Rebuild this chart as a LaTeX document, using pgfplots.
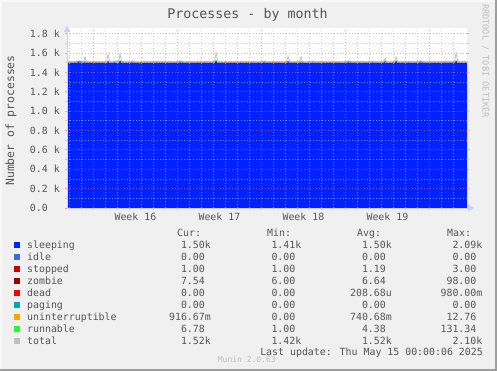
\documentclass[border=0pt]{standalone}
\usepackage{pgfplots}
\pgfplotsset{compat=1.18}
\usepackage{pgfplotstable}
\usepackage{fontspec}
\setmainfont{DejaVu Sans Mono}
\definecolor{bg}{HTML}{F0F0F0}
\definecolor{txt}{HTML}{555555}
\definecolor{arrowc}{HTML}{CCCCFF}
\definecolor{frameD}{HTML}{9E9E9E}
\definecolor{frameL}{HTML}{F8F8F8}
\definecolor{sleepc}{HTML}{0022FF}
\definecolor{idlec}{HTML}{4169E1}
\definecolor{stopc}{HTML}{CC0000}
\definecolor{zombc}{HTML}{990000}
\definecolor{deadc}{HTML}{FF0000}
\definecolor{pagc}{HTML}{00AAAA}
\definecolor{uninc}{HTML}{FFA500}
\definecolor{runc}{HTML}{22FF22}
\definecolor{totc}{HTML}{C0C0C0}
\definecolor{gridmin}{HTML}{C0C0C0}
\definecolor{gridmaj}{HTML}{FF7070}
\newcommand\lf{\fontsize{9.9}{12}\selectfont}
\newcommand\ns{\hphantom{k}}
\newcommand\legrow[8]{%
  \fill[#2] (14,#1+0.3) rectangle (20,#1+6.3);
  \node[anchor=base west] at (27,#1) {\lf #3};
  \node[anchor=base east] at (211,#1) {\lf #4};
  \node[anchor=base east] at (301.5,#1) {\lf #5};
  \node[anchor=base east] at (392,#1) {\lf #6};
  \node[anchor=base east] at (482.5,#1) {\lf #7};
}
\pgfplotstableread{
x s z r t
0.00 1.502 1.509 1.513 1.514
0.50 1.498 1.505 1.510 1.512
1.00 1.505 1.512 1.517 1.518
1.40 1.500 1.507 1.512 1.513
1.50 1.503 1.510 1.515 1.560
1.60 1.501 1.508 1.513 1.514
2.00 1.495 1.502 1.507 1.508
2.50 1.500 1.507 1.512 1.513
3.00 1.497 1.504 1.509 1.510
3.30 1.499 1.506 1.511 1.512
3.42 1.505 1.512 1.517 1.585
3.55 1.500 1.507 1.512 1.513
4.00 1.502 1.509 1.515 1.516
4.30 1.500 1.507 1.513 1.514
4.42 1.508 1.515 1.521 1.590
4.55 1.502 1.509 1.514 1.515
5.00 1.498 1.505 1.510 1.511
5.50 1.503 1.510 1.515 1.516
6.00 1.493 1.500 1.505 1.506
6.50 1.500 1.507 1.512 1.513
7.00 1.497 1.504 1.509 1.510
7.50 1.502 1.509 1.514 1.515
8.00 1.496 1.503 1.508 1.509
8.50 1.501 1.508 1.513 1.514
9.00 1.499 1.506 1.511 1.512
9.50 1.503 1.510 1.516 1.517
10.00 1.497 1.504 1.509 1.510
10.50 1.500 1.507 1.512 1.513
11.00 1.496 1.503 1.508 1.509
11.50 1.502 1.509 1.514 1.515
12.00 1.499 1.506 1.511 1.512
12.30 1.501 1.508 1.514 1.515
12.42 1.510 1.517 1.523 1.600
12.55 1.500 1.507 1.512 1.513
13.00 1.494 1.501 1.506 1.507
13.50 1.500 1.507 1.512 1.513
14.00 1.497 1.504 1.509 1.510
14.50 1.502 1.509 1.514 1.515
15.00 1.496 1.503 1.508 1.509
15.50 1.501 1.508 1.513 1.514
16.00 1.499 1.506 1.511 1.512
16.50 1.503 1.510 1.515 1.516
17.00 1.495 1.502 1.507 1.508
17.50 1.500 1.507 1.512 1.513
18.00 1.498 1.505 1.510 1.511
18.30 1.500 1.507 1.513 1.514
18.42 1.505 1.512 1.518 1.565
18.55 1.500 1.507 1.512 1.513
19.00 1.497 1.504 1.509 1.510
19.38 1.499 1.506 1.511 1.512
19.50 1.503 1.510 1.516 1.560
19.62 1.500 1.507 1.512 1.513
20.00 1.498 1.505 1.510 1.511
20.50 1.502 1.509 1.515 1.516
21.00 1.497 1.504 1.509 1.510
21.50 1.501 1.508 1.513 1.514
22.00 1.496 1.503 1.508 1.509
22.50 1.500 1.507 1.512 1.513
23.00 1.498 1.505 1.510 1.511
23.50 1.503 1.510 1.516 1.517
24.00 1.497 1.504 1.509 1.510
24.50 1.501 1.508 1.513 1.514
25.00 1.499 1.506 1.511 1.512
25.50 1.502 1.509 1.515 1.516
26.00 1.498 1.505 1.510 1.511
26.38 1.500 1.507 1.512 1.513
26.50 1.506 1.513 1.519 1.545
26.62 1.499 1.506 1.511 1.512
27.00 1.498 1.505 1.510 1.511
27.30 1.501 1.508 1.513 1.514
27.42 1.507 1.514 1.520 1.555
27.55 1.500 1.507 1.512 1.513
28.00 1.497 1.504 1.509 1.510
28.50 1.502 1.509 1.514 1.515
29.00 1.499 1.506 1.511 1.512
29.50 1.503 1.510 1.516 1.517
30.00 1.498 1.505 1.510 1.511
30.50 1.501 1.508 1.513 1.514
31.00 1.497 1.504 1.509 1.510
31.50 1.502 1.509 1.515 1.516
32.00 1.499 1.506 1.511 1.512
32.30 1.500 1.507 1.513 1.514
32.42 1.508 1.515 1.521 1.600
32.55 1.501 1.508 1.513 1.514
33.00 1.498 1.505 1.510 1.511
33.33 1.500 1.507 1.512 1.513
}\data
\begin{document}
\begin{tikzpicture}[x=1pt,y=1pt,every node/.style={text=txt,inner sep=0pt}]
\useasboundingbox (0,0) rectangle (497,371);
\fill[bg] (0,0) rectangle (497,371);
\fill[frameL] (0,0) rectangle (2,371);
\fill[frameL] (0,369) rectangle (497,371);
\fill[frameD] (495,0) rectangle (497,371);
\fill[frameD] (0,0) rectangle (497,2);
\begin{axis}[
  at={(67pt,163pt)}, anchor=south west,
  scale only axis, width=400pt, height=180pt,
  xmin=0, xmax=33.33, ymin=0, ymax=1.8576,
  axis line style={draw=none},
  axis background/.style={fill=white},
  axis on top,
  xtick={2.2,9.2,16.2,23.2,30.2}, xticklabels={},
  minor xtick={0.2,1.2,3.2,4.2,5.2,6.2,7.2,8.2,10.2,11.2,12.2,13.2,14.2,15.2,17.2,18.2,19.2,20.2,21.2,22.2,24.2,25.2,26.2,27.2,28.2,29.2,31.2,32.2},
  extra x ticks={5.7,12.7,19.7,26.7},
  extra x tick labels={Week 16,Week 17,Week 18,Week 19},
  extra x tick style={grid=none, major tick length=0pt},
  ytick={0,0.2,0.4,0.6,0.8,1.0,1.2,1.4,1.6,1.8},
  yticklabels={0.0\hphantom{xx},0.2 k,0.4 k,0.6 k,0.8 k,1.0 k,1.2 k,1.4 k,1.6 k,1.8 k},
  minor ytick={0.1,0.3,0.5,0.7,0.9,1.1,1.3,1.5,1.7},
  grid=both,
  major grid style={draw=gridmaj, opacity=0.6, dash pattern=on 1pt off 2pt, line width=0.8pt},
  minor grid style={draw=gridmin, opacity=0.7, dash pattern=on 1pt off 2pt, line width=0.8pt},
  tick align=outside,
  xtick pos=bottom, ytick pos=both, yticklabel pos=left,
  major tick length=2pt, minor tick length=2pt,
  major tick style={draw=gridmaj, opacity=0.6, line width=0.8pt},
  minor tick style={draw=gridmin, opacity=0.7, line width=0.8pt},
  ticklabel style={font=\lf, text=txt},
  yticklabel style={anchor=east, inner sep=0pt, xshift=-5pt},
  xticklabel style={anchor=north, inner sep=0pt, yshift=-5pt},
]
\addplot[draw=none, fill=sleepc] table[x=x,y=s]{\data} \closedcycle;
\addplot[draw=zombc, line width=0.6pt] table[x=x,y=z]{\data};
\addplot[draw=runc, line width=0.6pt] table[x=x,y=r]{\data};
\addplot[draw=totc, line width=0.8pt] table[x=x,y=t]{\data};
\end{axis}
% axes arrows
\draw[arrowc, line width=0.8pt] (67,163) -- (469,163);
\fill[arrowc] (468,166.5) -- (474,163) -- (468,159.5) -- cycle;
\draw[arrowc, line width=0.8pt] (67,163) -- (67,340);
\fill[arrowc] (63.5,339) -- (67,345) -- (70.5,339) -- cycle;
% titles
\node[anchor=base] at (247.5,352.7) {\fontsize{13.3}{15}\selectfont Processes - by month};
\node[rotate=90, anchor=center] at (11,250.5) {\fontsize{11.4}{13}\selectfont Number of processes};
\node[rotate=-90, anchor=center, text=totc] at (485.5,310) {\fontsize{8.6}{10}\selectfont RRDTOOL / TOBI OETIKER};
% legend header
\node[anchor=base west] at (177,134.3) {\lf Cur:};
\node[anchor=base west] at (267,134.3) {\lf Min:};
\node[anchor=base west] at (357,134.3) {\lf Avg:};
\node[anchor=base west] at (447,134.3) {\lf Max:};
\legrow{122.3}{sleepc}{sleeping}{1.50k}{1.41k}{1.50k}{2.09k}{}
\legrow{110.3}{idlec}{idle}{0.00\ns}{0.00\ns}{0.00\ns}{0.00\ns}{}
\legrow{98.3}{stopc}{stopped}{1.00\ns}{1.00\ns}{1.19\ns}{3.00\ns}{}
\legrow{86.3}{zombc}{zombie}{7.54\ns}{6.00\ns}{6.64\ns}{98.00\ns}{}
\legrow{74.3}{deadc}{dead}{0.00\ns}{0.00\ns}{208.68u}{980.00m}{}
\legrow{62.3}{pagc}{paging}{0.00\ns}{0.00\ns}{0.00\ns}{0.00\ns}{}
\legrow{50.3}{uninc}{uninterruptible}{916.67m}{0.00\ns}{740.68m}{12.76\ns}{}
\legrow{38.3}{runc}{runnable}{6.78\ns}{1.00\ns}{4.38\ns}{131.34\ns}{}
\legrow{26.3}{totc}{total}{1.52k}{1.42k}{1.52k}{2.10k}{}
\node[anchor=base east] at (483,15.3) {\lf Last update: Thu May 15 00:00:06 2025};
\node[anchor=base west, text=totc] at (217.7,8.3) {\fontsize{8}{9}\selectfont Munin 2.0.63};
\end{tikzpicture}
\end{document}
